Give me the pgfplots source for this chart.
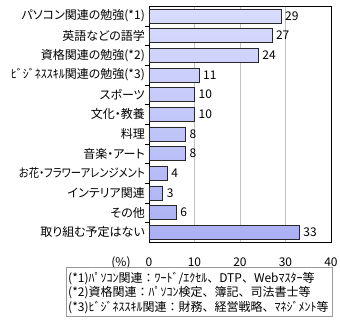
\documentclass[border=0pt]{standalone}
\usepackage{fontspec}
\setmainfont{Noto Sans CJK JP}
\newfontfamily\jp{Noto Sans CJK JP}[RawFeature=+palt]
\usepackage{pgfplots}
\pgfplotsset{compat=1.18}
\definecolor{barT}{RGB}{216,220,255}
\definecolor{barB}{RGB}{170,176,242}
\definecolor{gridc}{RGB}{192,192,192}
\definecolor{edge}{RGB}{40,40,40}
\begin{document}
\fontsize{12bp}{14bp}\selectfont
\begin{tikzpicture}
\path[use as bounding box] (-149bp,-83bp) rectangle (191bp,242bp);
\begin{axis}[
  at={(0,0)}, anchor=south west,
  scale only axis, width=182bp, height=236bp,
  xbar, bar width=0.71,
  xmin=0, xmax=40, xtick={0,10,20,30,40},
  ymin=-0.5, ymax=11.5, y dir=reverse,
  ytick={0,...,11},
  yticklabels={パソコン関連の勉強(*1),英語などの語学,資格関連の勉強(*2),ﾋﾞｼﾞﾈｽｽｷﾙ関連の勉強(*3),スポーツ,文化・教養,料理,音楽・アート,{\scalebox{0.86}[1]{お花・フラワーアレンジメント}},インテリア関連,その他,取り組む予定はない},
  yticklabel style={font=\jp\fontsize{12bp}{14bp}\selectfont},
  xticklabel style={font=\fontsize{12bp}{14bp}\selectfont, anchor=base, yshift=-24.5bp},
  major tick length=0pt,
  ytick pos=left, xtick pos=bottom,
  extra y ticks={0.5,1.5,...,10.5},
  extra y tick labels={},
  extra y tick style={major tick length=4bp, tick style={black}},
  xmajorgrids, grid style={gridc},
  axis line style={black},
  /pgf/number format/assume math mode=true,
  nodes near coords,
  every node near coord/.append style={font=\fontsize{12bp}{14bp}\selectfont, anchor=west, text=black, fill=none},
  point meta=x,
]
\addplot[draw=edge, top color=barT, bottom color=barB] coordinates {
(29,0) (27,1) (24,2) (11,3) (10,4) (10,5) (8,6) (8,7) (4,8) (3,9) (6,10) (33,11)};
\end{axis}
\node[anchor=base] at (-28bp,-24.5bp) {(\%)};
\draw[gray!80] (-83bp,-25bp) rectangle (183bp,-74bp);
\node[anchor=base west, inner sep=0pt] at (-81bp,-40bp) {(*1)ﾊﾟｿｺﾝ関連：ﾜｰﾄﾞ/ｴｸｾﾙ、DTP、Webﾏｽﾀｰ等};
\node[anchor=base west, inner sep=0pt] at (-81bp,-54.5bp) {(*2)資格関連：ﾊﾟｿｺﾝ検定、簿記、司法書士等};
\node[anchor=base west, inner sep=0pt] at (-81bp,-69bp) {(*3)ﾋﾞｼﾞﾈｽｽｷﾙ関連：財務、経営戦略、ﾏﾈｼﾞﾒﾝﾄ等};
\end{tikzpicture}
\end{document}
